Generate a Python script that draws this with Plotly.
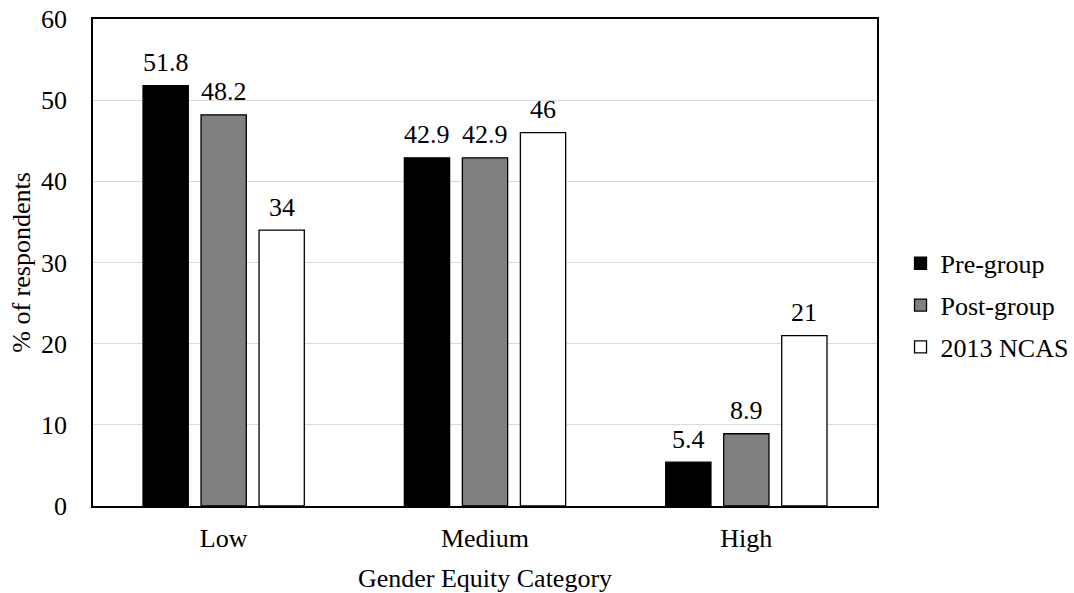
import plotly.graph_objects as go

categories = ["Low", "Medium", "High"]
pre_group = [51.8, 42.9, 5.4]
post_group = [48.2, 42.9, 8.9]
ncas_2013 = [34, 46, 21]
series_names = ["Pre-group", "Post-group", "2013 NCAS"]
series_colors = ["#000000", "#808080", "#ffffff"]
y_ticks = [0, 10, 20, 30, 40, 50, 60]

FONT = "Liberation Serif, Times New Roman, serif"
TXT = 26

fig = go.Figure()
all_series = [pre_group, post_group, ncas_2013]
for name, vals, col in zip(series_names, all_series, series_colors):
    fig.add_trace(go.Bar(
        name=name,
        legendgroup=name,
        x=categories,
        y=vals,
        marker=dict(color=col, line=dict(color="#000000", width=1.3)),
    ))

# value labels above each bar, shifted to the bar's slot within its group
slot_px = 58
for i, vals in enumerate(all_series):
    for cat, v in zip(categories, vals):
        fig.add_annotation(
            x=cat, y=v, text=f"{v:g}", showarrow=False,
            xshift=(i - 1) * slot_px, yshift=23, yanchor="middle",
            font=dict(family=FONT, size=TXT, color="#000000"),
        )

fig.update_layout(
    barmode="group",
    bargap=0.334,
    bargroupgap=0.22,
    width=1074,
    height=593,
    margin=dict(l=93, r=197, t=19, b=87, autoexpand=False),
    paper_bgcolor="#ffffff",
    plot_bgcolor="#ffffff",
    font=dict(family=FONT, size=TXT, color="#000000"),
    showlegend=True,
    legend=dict(
        x=1.03, y=0.412, xanchor="left", yanchor="middle",
        font=dict(family=FONT, size=TXT, color="#000000"),
        itemwidth=30,
        tracegroupgap=5,
        bgcolor="rgba(0,0,0,0)",
    ),
    xaxis=dict(
        title=dict(text="Gender Equity Category", font=dict(family=FONT, size=TXT), standoff=17),
        showline=True, linecolor="#000000", linewidth=1.5, mirror=True,
        automargin=False,
        ticks="", ticklabelstandoff=8, tickfont=dict(family=FONT, size=TXT),
    ),
    yaxis=dict(
        title=dict(text="% of respondents", font=dict(family=FONT, size=TXT), standoff=3),
        range=[0, 60],
        tickvals=y_ticks,
        showline=True, linecolor="#000000", linewidth=1.5, mirror=True,
        automargin=False,
        showgrid=True, gridcolor="#d9d9d9", gridwidth=1,
        zeroline=False,
        ticks="", ticklabelstandoff=19,
        tickfont=dict(family=FONT, size=TXT),
    ),
)

fig.write_html("out.html")
